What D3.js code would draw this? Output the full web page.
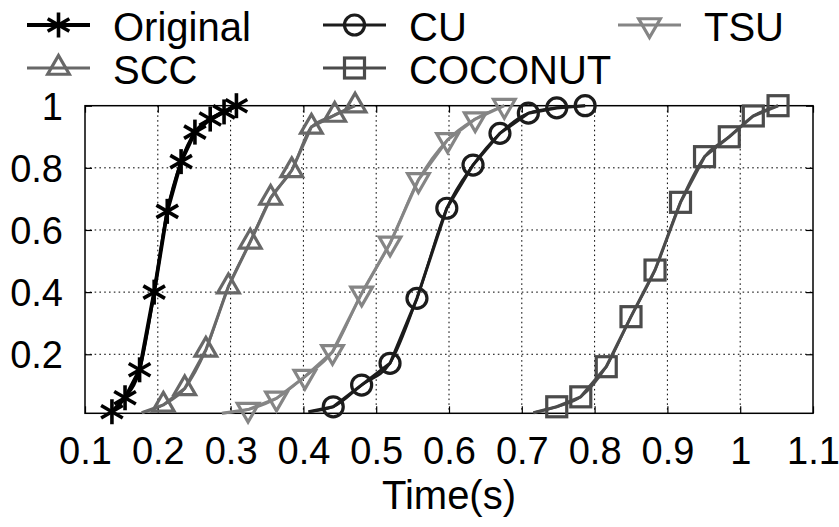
<!DOCTYPE html>
<html>
<head>
<meta charset="utf-8">
<script src="https://cdn.jsdelivr.net/npm/d3@7"></script>
<style>
  html, body { margin: 0; padding: 0; background: #fff; }
</style>
</head>
<body>
<svg id="chart" width="839" height="527"></svg>
<script>
// CDF of completion time for each approach
const xTicks = [0.1, 0.2, 0.3, 0.4, 0.5, 0.6, 0.7, 0.8, 0.9, 1, 1.1];
const yTicks = [0.2, 0.4, 0.6, 0.8, 1];
const xTickLabels = ["0.1", "0.2", "0.3", "0.4", "0.5", "0.6", "0.7", "0.8", "0.9", "1", "1.1"];
const yTickLabels = ["0.2", "0.4", "0.6", "0.8", "1"];

const seriesNames = ["Original", "CU", "TSU", "SCC", "COCONUT"];

// time (s) and cumulative fraction at each marker
const originalTime = [0.137, 0.155, 0.175, 0.195, 0.213, 0.232, 0.251, 0.272, 0.291, 0.308];
const originalCdf  = [0.015, 0.06, 0.15, 0.40, 0.66, 0.82, 0.915, 0.957, 0.98, 1.0];

const cuTime = [0.407, 0.441, 0.480, 0.519, 0.556, 0.597, 0.633, 0.670, 0.709, 0.748, 0.787];
const cuCdf  = [0.015, 0.031, 0.101, 0.171, 0.380, 0.670, 0.809, 0.911, 0.976, 0.993, 1.0];

const tsuTime = [0.288, 0.324, 0.363, 0.402, 0.440, 0.480, 0.519, 0.558, 0.598, 0.636, 0.676];
const tsuCdf  = [0.01, 0.022, 0.058, 0.128, 0.208, 0.396, 0.557, 0.761, 0.890, 0.957, 1.0];

const sccTime = [0.178, 0.2076, 0.237, 0.266, 0.297, 0.327, 0.355, 0.384, 0.411, 0.443, 0.471];
const sccCdf  = [0.012, 0.037, 0.09, 0.214, 0.418, 0.562, 0.703, 0.792, 0.932, 0.970, 1.0];

const coconutTime = [0.716, 0.748, 0.781, 0.816, 0.850, 0.883, 0.918, 0.951, 0.985, 1.018, 1.052];
const coconutCdf  = [0.012, 0.031, 0.063, 0.160, 0.321, 0.471, 0.689, 0.836, 0.900, 0.967, 1.0];

// index of the first point that carries a marker (earlier points are line-only)
const firstMarker = { Original: 0, CU: 1, TSU: 1, SCC: 1, COCONUT: 1 };

const styles = {
  Original: { color: "#000000", marker: "star",   width: 3.8 },
  CU:       { color: "#1c1c1c", marker: "circle", width: 3.1 },
  TSU:      { color: "#858585", marker: "tridown",width: 3.1 },
  SCC:      { color: "#686868", marker: "triup",  width: 3.1 },
  COCONUT:  { color: "#4b4b4b", marker: "square", width: 3.1 }
};

const seriesData = {
  Original: d3.zip(originalTime, originalCdf),
  CU: d3.zip(cuTime, cuCdf),
  TSU: d3.zip(tsuTime, tsuCdf),
  SCC: d3.zip(sccTime, sccCdf),
  COCONUT: d3.zip(coconutTime, coconutCdf)
};

const fontFace = "Liberation Sans";
const svg = d3.select("#chart");
const plotLeft = 85, plotRight = 813, plotTop = 105.7, plotBottom = 413.3;

const x = d3.scaleLinear().domain([0.1, 1.1]).range([plotLeft, plotRight]);
const y = d3.scaleLinear().domain([0.01, 1]).range([plotBottom, plotTop]);

// dotted grid
const grid = svg.append("g").attr("stroke", "#000").attr("stroke-width", 1)
  .attr("stroke-dasharray", "1.6,3.2");
grid.selectAll("line.v").data(xTicks.filter(t => t > 0.1 && t < 1.1)).join("line")
  .attr("class", "v")
  .attr("x1", d => x(d)).attr("x2", d => x(d)).attr("y1", plotTop).attr("y2", plotBottom);
grid.selectAll("line.h").data(yTicks.filter(t => t < 1)).join("line")
  .attr("class", "h")
  .attr("x1", plotLeft).attr("x2", plotRight).attr("y1", d => y(d)).attr("y2", d => y(d));

// axes: ticks pointing inward on all four sides
const tickLen = 7;
const tickFont = 38;
const axB = d3.axisBottom(x).tickValues(xTicks).tickSize(-tickLen).tickPadding(24)
  .tickFormat((d, i) => xTickLabels[i]);
const axT = d3.axisTop(x).tickValues(xTicks).tickSize(-tickLen).tickFormat("");
const axL = d3.axisLeft(y).tickValues(yTicks).tickSize(-tickLen).tickPadding(22)
  .tickFormat((d, i) => yTickLabels[i]);
const axR = d3.axisRight(y).tickValues(yTicks).tickSize(-tickLen).tickFormat("");

function styleAxis(g) {
  g.attr("font-family", fontFace).attr("font-size", tickFont);
  g.select(".domain").remove();
  g.selectAll(".tick line").attr("stroke", "#000").attr("stroke-width", 1.2);
  g.selectAll("text").attr("fill", "#000");
}
svg.append("g").attr("transform", `translate(0,${plotBottom})`).call(axB).call(styleAxis)
  .selectAll("text").attr("dy", "0.71em");
svg.append("g").attr("transform", `translate(0,${plotTop})`).call(axT).call(styleAxis);
svg.append("g").attr("transform", `translate(${plotLeft},0)`).call(axL).call(styleAxis)
  .selectAll("text").attr("dy", "0.35em");
svg.append("g").attr("transform", `translate(${plotRight},0)`).call(axR).call(styleAxis);

// frame
svg.append("rect").attr("x", plotLeft).attr("y", plotTop)
  .attr("width", plotRight - plotLeft).attr("height", plotBottom - plotTop)
  .attr("fill", "none").attr("stroke", "#000").attr("stroke-width", 1.5);

// axis title
svg.append("text").attr("x", (plotLeft + plotRight) / 2).attr("y", 509)
  .attr("text-anchor", "middle")
  .attr("font-family", fontFace).attr("font-size", 40).text("Time(s)");

// marker shapes
function drawMarker(g, type, color, cx, cy) {
  const sw = 3.2;
  if (type === "star") {
    const r = 12.5;
    [90, 30, -30].forEach(a => {
      const rad = a * Math.PI / 180;
      g.append("line")
        .attr("x1", cx - r * Math.cos(rad)).attr("y1", cy - r * Math.sin(rad))
        .attr("x2", cx + r * Math.cos(rad)).attr("y2", cy + r * Math.sin(rad))
        .attr("stroke", color).attr("stroke-width", 3.6);
    });
  } else if (type === "circle") {
    g.append("circle").attr("cx", cx).attr("cy", cy).attr("r", 10)
      .attr("fill", "none").attr("stroke", color).attr("stroke-width", sw);
  } else if (type === "square") {
    const s = 20;
    g.append("rect").attr("x", cx - s / 2).attr("y", cy - s / 2)
      .attr("width", s).attr("height", s)
      .attr("fill", "none").attr("stroke", color).attr("stroke-width", sw);
  } else {
    const r = 12.5;
    const dir = type === "triup" ? -1 : 1;
    const pts = [0, 120, 240].map(a => {
      const rad = a * Math.PI / 180;
      return [cx + r * Math.sin(rad), cy + dir * r * Math.cos(rad)];
    });
    g.append("path").attr("d", "M" + pts.map(p => p.join(",")).join("L") + "Z")
      .attr("fill", "none").attr("stroke", color).attr("stroke-width", sw)
      .attr("stroke-linejoin", "miter");
  }
}

const lineLinear = d3.line().x(d => x(d[0])).y(d => y(d[1]));
const lineSmooth = d3.line().x(d => x(d[0])).y(d => y(d[1])).curve(d3.curveMonotoneX);

seriesNames.forEach(name => {
  const st = styles[name];
  const data = seriesData[name];
  const g = svg.append("g");
  g.append("path").datum(data).attr("d", lineSmooth)
    .attr("fill", "none").attr("stroke", st.color).attr("stroke-width", st.width * 0.8)
    .attr("stroke-linejoin", "round");
  g.append("path").datum(data).attr("d", lineLinear)
    .attr("fill", "none").attr("stroke", st.color).attr("stroke-width", st.width)
    .attr("stroke-linejoin", "round");
  data.slice(firstMarker[name]).forEach(d => drawMarker(g, st.marker, st.color, x(d[0]), y(d[1])));
});

// legend, three columns filled row by row
const legendCols = [27, 323, 618];
const legendRows = [25, 68];
seriesNames.forEach((name, i) => {
  const st = styles[name];
  const lx = legendCols[i % 3], ly = legendRows[Math.floor(i / 3)];
  const g = svg.append("g");
  g.append("line").attr("x1", lx).attr("x2", lx + 63).attr("y1", ly).attr("y2", ly)
    .attr("stroke", st.color).attr("stroke-width", st.width);
  drawMarker(g, st.marker, st.color, lx + 31.5, ly);
  g.append("text").attr("x", lx + 86).attr("y", ly + 16)
    .attr("font-family", fontFace).attr("font-size", 40).attr("fill", "#000").text(name);
});
</script>
</body>
</html>
